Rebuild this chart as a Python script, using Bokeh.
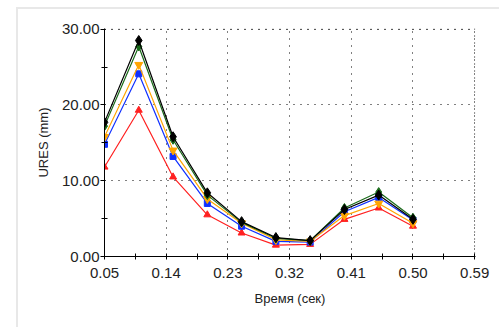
from bokeh.plotting import figure
from bokeh.models import Range1d, FixedTicker, PrintfTickFormatter, Span
from bokeh.embed import file_html
from bokeh.resources import INLINE

# Displacement (URES, mm) versus time (s) for five probed points
time_s = [0.05, 0.10, 0.15, 0.20, 0.25, 0.30, 0.35, 0.40, 0.45, 0.50]
ures_black = [17.7, 28.5, 15.8, 8.4, 4.6, 2.5, 2.1, 6.2, 8.1, 4.9]
ures_green = [17.2, 27.7, 15.4, 8.1, 4.5, 2.4, 2.1, 6.4, 8.5, 5.1]
ures_orange = [15.8, 25.3, 14.0, 7.6, 4.4, 2.2, 2.0, 5.4, 7.0, 4.4]
ures_blue = [14.8, 24.1, 13.2, 7.0, 4.0, 2.0, 1.9, 5.9, 7.8, 4.8]
ures_red = [11.8, 19.3, 10.5, 5.5, 3.1, 1.5, 1.6, 4.9, 6.4, 4.0]

x_ticks = [0.05, 0.14, 0.23, 0.32, 0.41, 0.50, 0.59]
x_minor = [0.095, 0.185, 0.275, 0.365, 0.455, 0.545]
y_ticks = [0, 10, 20, 30]
y_minor = [5, 15, 25]

# ranges run a hair past the last ticks so the edge grid lines stay visible
p = figure(width=499, height=327, output_backend="svg", toolbar_location=None,
           x_range=Range1d(0.05, 0.5912), y_range=Range1d(0, 30.08),
           min_border_left=104, min_border_right=24, min_border_top=28,
           min_border_bottom=71)
p.background_fill_color = "white"
p.border_fill_color = None
p.outline_line_color = None

# light panel frame drawn behind the transparent canvas border
frame_color = "#e8e8e8"
p.styles = {
    "background": (
        f"linear-gradient({frame_color},{frame_color}) 16px 7px / 2px 330px no-repeat, "
        f"linear-gradient({frame_color},{frame_color}) 16px 7px / 490px 2px no-repeat, "
        "white"
    )
}

tick_font = "Liberation Sans"
for ax, ticks, minor in ((p.xaxis[0], x_ticks, x_minor), (p.yaxis[0], y_ticks, y_minor)):
    ax.ticker = FixedTicker(ticks=ticks, minor_ticks=minor)
    ax.formatter = PrintfTickFormatter(format="%.2f")
    ax.axis_line_color = "black"
    ax.axis_line_width = 1
    ax.major_tick_line_color = "black"
    ax.minor_tick_line_color = "black"
    ax.major_label_text_font = tick_font
    ax.major_label_text_font_size = "15px"
    ax.major_label_text_color = "#222222"
    ax.axis_label_text_font = tick_font
    ax.axis_label_text_font_size = "13px"
    ax.axis_label_text_font_style = "normal"
    ax.axis_label_text_color = "#222222"

p.xaxis.axis_label = "Время (сек)"
p.yaxis.axis_label = "URES (mm)"
p.xaxis.major_tick_out = 3
p.xaxis.major_tick_in = 3
p.xaxis.minor_tick_out = 3
p.xaxis.minor_tick_in = 3
p.xaxis.major_label_standoff = 8
p.xaxis.axis_label_standoff = 10
p.yaxis.major_tick_out = 4
p.yaxis.major_tick_in = 1
p.yaxis.minor_tick_out = 3
p.yaxis.minor_tick_in = 3
p.yaxis.major_label_standoff = 1
p.yaxis.axis_label_standoff = 8

for g in (p.xgrid[0], p.ygrid[0]):
    g.grid_line_color = "black"
    g.grid_line_dash = "1 6"
    g.grid_line_width = 1

# dotted lines closing the grid along the top and right edges
p.add_layout(Span(location=y_ticks[-1], dimension="width", line_color="black",
                  line_dash="1 6", line_width=1))
p.add_layout(Span(location=x_ticks[-1], dimension="height", line_color="black",
                  line_dash="1 6", line_width=1))

series = [
    (ures_red, "#ff2020", "triangle", 7),
    (ures_blue, "#1030ff", "square", 6),
    (ures_orange, "#ffa500", "inverted_triangle", 8),
    (ures_green, "#1a6b1a", "diamond", 9),
    (ures_black, "#000000", "diamond", 10),
]
for vals, color, marker, size in series:
    p.line(time_s, vals, line_color=color, line_width=1.2)
    p.scatter(time_s, vals, marker=marker, size=size, fill_color=color,
              line_color=color)

open("out.html", "w").write(file_html(p, INLINE))
